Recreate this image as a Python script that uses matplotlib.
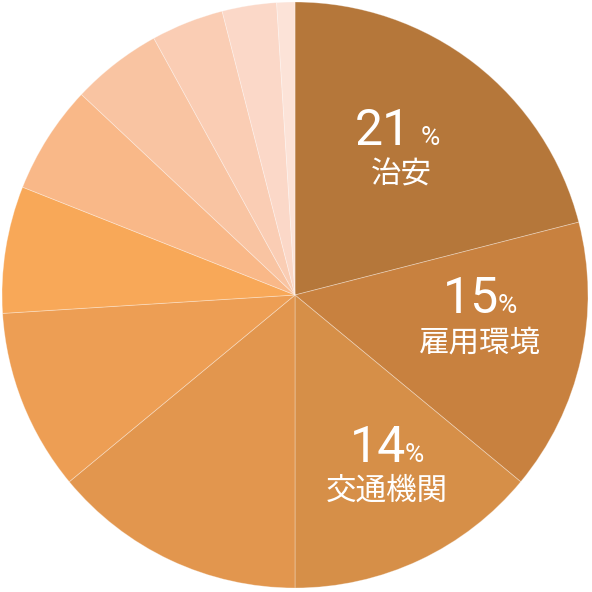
import matplotlib
matplotlib.use("Agg")
import matplotlib.pyplot as plt

values = [21, 15, 14, 14, 10, 7, 6, 5, 4, 3, 1]
colors = ["#B5773A", "#C8813F", "#D68F48", "#E2964E", "#ED9E54", "#F8A858",
          "#F9B888", "#F9C4A2", "#FACDB4", "#FBD8C8", "#FCE3D8"]
label_nums = ["21", "15", "14"]
label_names = ["治安", "雇用環境", "交通機関"]

W = 592
fig = plt.figure(figsize=(5.92, 5.92), dpi=100)
ax = fig.add_axes([0, 0, 1, 1])
R = 293.0
ax.pie(values, colors=colors, startangle=90, counterclock=False, radius=1,
       wedgeprops=dict(edgecolor=(1, 1, 1, 0.35), linewidth=0.6))
ax.set_xlim(-295 / R, 297 / R)
ax.set_ylim(-297 / R, 295 / R)
ax.set_aspect("equal")
ax.axis("off")

def px(x, y):
    return x / W, 1 - y / W

# (num_left_x, baseline_y, pct_left_x, name_center_x, name_center_y)
pos = [(355, 145, 421, 401, 175),
       (443, 313, 498, 480, 343),
       (350, 462, 405, 387, 491)]
for num, name, (nx, by, pxl, cx, cy) in zip(label_nums, label_names, pos):
    fig.text(*px(nx, by), num, color="white", fontsize=36, family="Roboto",
             ha="left", va="baseline")
    fig.text(*px(pxl, by), "%", color="white", fontsize=19, family="Roboto",
             ha="left", va="baseline")
    fig.text(*px(cx, cy), name, color="white", fontsize=22,
             family=["Noto Sans CJK JP", "DejaVu Sans"], ha="center", va="center")

fig.savefig("out.png", dpi=100)
